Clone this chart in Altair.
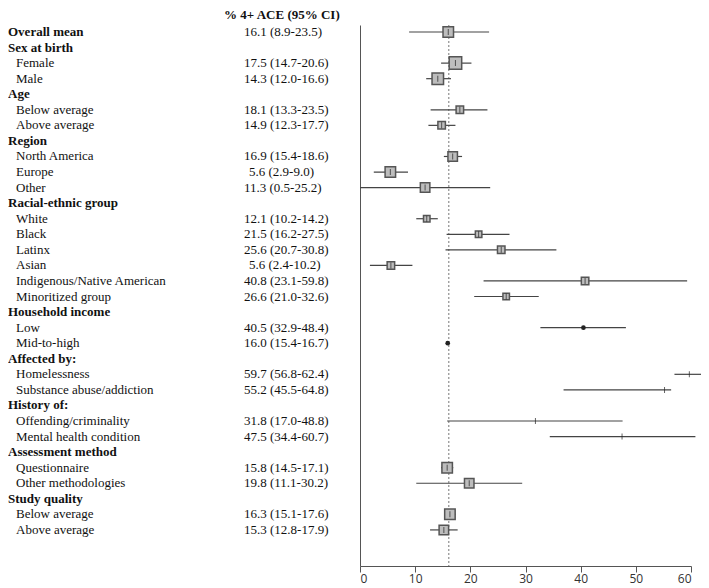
import altair as alt
import pandas as pd

# ---- data ----
labels = ["Overall mean", "Sex at birth", "Female", "Male", "Age", "Below average",
          "Above average", "Region", "North America", "Europe", "Other",
          "Racial-ethnic group", "White", "Black", "Latinx", "Asian",
          "Indigenous/Native American", "Minoritized group", "Household income",
          "Low", "Mid-to-high", "Affected by:", "Homelessness",
          "Substance abuse/addiction", "History of:", "Offending/criminality",
          "Mental health condition", "Assessment method", "Questionnaire",
          "Other methodologies", "Study quality", "Below average", "Above average"]
is_header = [1, 1, 0, 0, 1, 0, 0, 1, 0, 0, 0, 1, 0, 0, 0, 0, 0, 0, 1, 0, 0, 1, 0, 0,
             1, 0, 0, 1, 0, 0, 1, 0, 0]
ci_text = ["16.1 (8.9-23.5)", "", "17.5 (14.7-20.6)", "14.3 (12.0-16.6)", "",
           "18.1 (13.3-23.5)", "14.9 (12.3-17.7)", "", "16.9 (15.4-18.6)",
           "5.6 (2.9-9.0)", "11.3 (0.5-25.2)", "", "12.1 (10.2-14.2)",
           "21.5 (16.2-27.5)", "25.6 (20.7-30.8)", "5.6 (2.4-10.2)",
           "40.8 (23.1-59.8)", "26.6 (21.0-32.6)", "", "40.5 (32.9-48.4)",
           "16.0 (15.4-16.7)", "", "59.7 (56.8-62.4)", "55.2 (45.5-64.8)", "",
           "31.8 (17.0-48.8)", "47.5 (34.4-60.7)", "", "15.8 (14.5-17.1)",
           "19.8 (11.1-30.2)", "", "16.3 (15.1-17.6)", "15.3 (12.8-17.9)"]

# drawn estimates / interval ends (as plotted), None for header rows
est = [16.0, None, 17.3, 14.1, None, 18.1, 14.8, None, 16.8, 5.5, 11.8, None, 12.1,
       21.5, 25.6, 5.6, 40.8, 26.5, None, 40.5, 15.9, None, 59.7, 55.2, None, 31.8,
       47.5, None, 15.8, 19.8, None, 16.3, 15.2]
lo = [8.9, None, 14.7, 12.0, None, 12.8, 12.4, None, 15.2, 2.5, 0.0, None, 10.2,
      15.7, 15.5, 1.8, 22.4, 20.7, None, 32.7, 15.9, None, 57.0, 36.9, None, 15.8,
      34.4, None, 14.7, 10.2, None, 15.3, 12.7]
hi = [23.4, None, 20.2, 16.5, None, 23.1, 17.3, None, 18.5, 8.7, 23.6, None, 14.1,
      27.1, 35.6, 9.5, 59.3, 32.4, None, 48.2, 15.9, None, 62.5, 56.4, None, 47.6,
      60.8, None, 16.9, 29.4, None, 17.3, 17.7]
marker = ["sq", None, "sq", "sq", None, "sq", "sq", None, "sq", "sq", "sq", None,
          "sq", "sq", "sq", "sq", "sq", "sq", None, "dot", "dot", None, "tick",
          "tick", None, "tick", "tick", None, "sq", "sq", None, "sq", "sq"]
# square side in px (inner)
side = [10.5, 0, 12.5, 11.5, 0, 7.5, 7.5, 0, 9.5, 10.5, 9.5, 0, 6.5, 6.5, 7.5, 7.5,
        7.5, 6.5, 0, 0, 0, 0, 0, 0, 0, 0, 0, 0, 10.5, 9.5, 0, 10.5, 9.5]
overall_mean = [16.1]
x_ticks = [0, 10, 20, 30, 40, 50, 60]
header_title = "% 4+ ACE (95% CI)"

rows = pd.DataFrame({
    "row": list(range(len(labels))),
    "label": labels,
    "header": is_header,
    "ci": ci_text,
    "est": est,
    "lo": lo,
    "hi": hi,
    "marker": marker,
    "size": [s * s for s in side],
})
est_rows = rows[rows["est"].notna()].copy()

FONT = "Liberation Serif"
W, H = 331, 541
ystep = 15.56
d0 = -7 / ystep
d1 = d0 + H / ystep

yscale = alt.Scale(domain=[d0, d1], reverse=True, nice=False, zero=False)
xscale = alt.Scale(domain=[0, 60], nice=False, zero=False)

base_est = alt.Chart(est_rows)

axis_line = alt.Chart(pd.DataFrame({"row": [0]})).mark_point(opacity=0).encode(
    x=alt.X("x:Q", scale=xscale, axis=alt.Axis(
        values=x_ticks, grid=False, title=None, labelFont="Open Sans",
        labelFontSize=12, labelColor="#333", tickSize=6, tickColor="#555",
        domainColor="#555", labelPadding=1)),
    y=alt.Y("row:Q", scale=yscale, axis=alt.Axis(
        labels=False, ticks=False, grid=False, domain=True, domainColor="#555",
        title=None)),
).transform_calculate(x="0")

ref = alt.Chart(pd.DataFrame({"m": overall_mean})).mark_rule(
    color="#777", strokeDash=[2, 2], strokeWidth=1).encode(
    x=alt.X("m:Q", scale=xscale))

ci = base_est.mark_rule(color="#444", strokeWidth=1.2).encode(
    x=alt.X("lo:Q", scale=xscale), x2="hi:Q",
    y=alt.Y("row:Q", scale=yscale))

squares = base_est.transform_filter(alt.datum.marker == "sq").mark_square(
    filled=True, color="#bdbdbd", stroke="#555", strokeWidth=1.5, opacity=1).encode(
    x=alt.X("est:Q", scale=xscale),
    y=alt.Y("row:Q", scale=yscale),
    size=alt.Size("size:Q", scale=None, legend=None))

dots = base_est.transform_filter(alt.datum.marker == "dot").mark_circle(
    color="#222", size=22, opacity=1).encode(
    x=alt.X("est:Q", scale=xscale), y=alt.Y("row:Q", scale=yscale))

ticks = base_est.transform_filter(alt.datum.marker != "dot").mark_tick(
    orient="vertical", size=6, thickness=1, color="#222").encode(
    x=alt.X("est:Q", scale=xscale), y=alt.Y("row:Q", scale=yscale))

hdr_labels = alt.Chart(rows).transform_filter(alt.datum.header == 1).mark_text(
    align="left", baseline="middle", font=FONT, fontSize=13, fontWeight="bold",
    color="#111").encode(
    x=alt.value(-352), y=alt.Y("row:Q", scale=yscale), text="label:N")

sub_labels = alt.Chart(rows).transform_filter(alt.datum.header == 0).mark_text(
    align="left", baseline="middle", font=FONT, fontSize=13, color="#111").encode(
    x=alt.value(-344), y=alt.Y("row:Q", scale=yscale), text="label:N")

ci_wide = alt.Chart(rows).transform_filter(
    "datum.ci != '' && !test(/^[0-9][.]/, datum.ci)").mark_text(
    align="left", baseline="middle", font=FONT, fontSize=13, color="#111").encode(
    x=alt.value(-116), y=alt.Y("row:Q", scale=yscale), text="ci:N")

ci_narrow = alt.Chart(rows).transform_filter(
    "test(/^[0-9][.]/, datum.ci)").mark_text(
    align="left", baseline="middle", font=FONT, fontSize=13, color="#111").encode(
    x=alt.value(-111), y=alt.Y("row:Q", scale=yscale), text="ci:N")

title_txt = alt.Chart(pd.DataFrame({"t": [header_title]})).mark_text(
    align="left", baseline="top", font=FONT, fontSize=13, fontWeight="bold",
    color="#111").encode(x=alt.value(-136), y=alt.value(-16), text="t:N")

chart = alt.layer(
    axis_line, ref, ci, squares, dots, ticks, hdr_labels, sub_labels, ci_wide,
    ci_narrow, title_txt
).properties(
    width=W, height=H,
    background="white",
    autosize=alt.AutoSizeParams(type="none"),
    padding={"left": 352, "top": 17, "right": 10, "bottom": 22},
).configure_view(stroke=None)

chart.save("out.html", embed_options={"renderer": "svg", "actions": False})
